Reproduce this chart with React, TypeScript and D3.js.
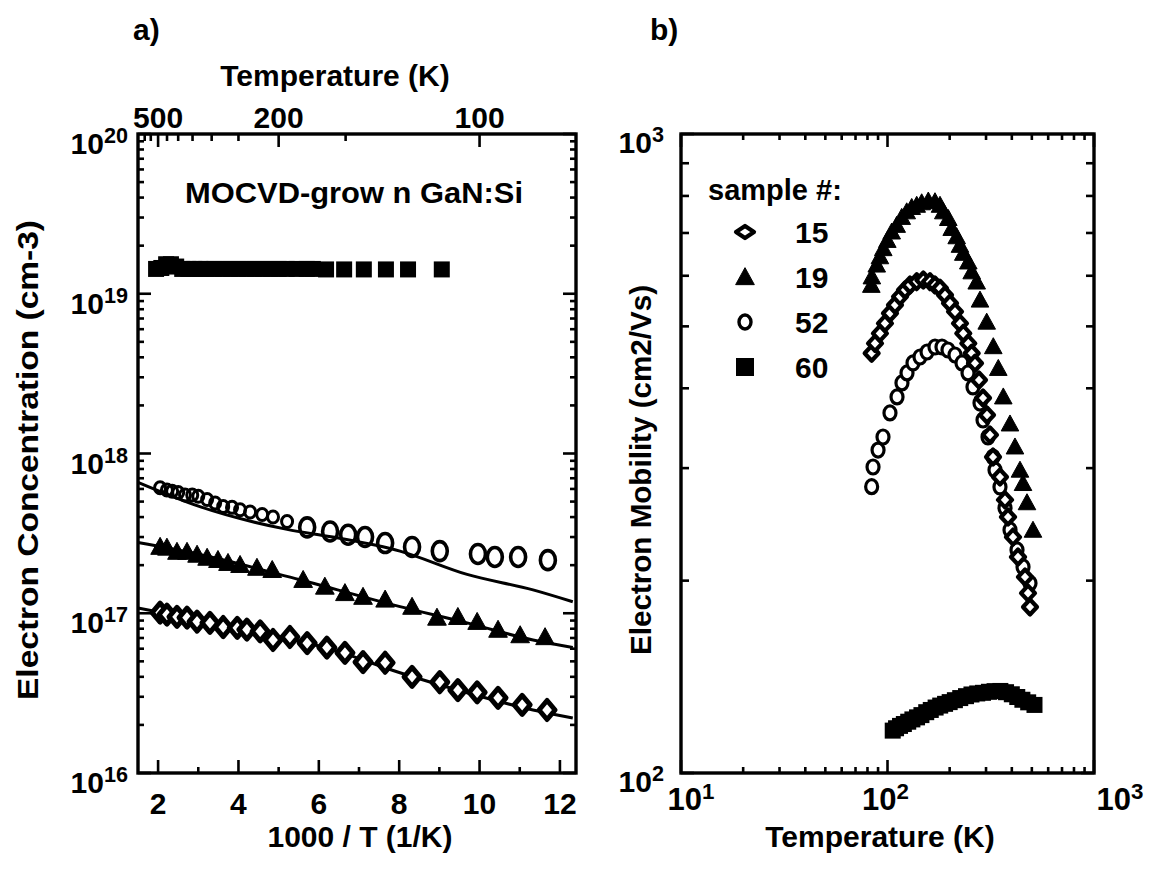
import React from 'react';
import * as d3 from 'd3';

// ---------- Panel a: electron concentration vs 1000/T ----------
const sq60InvT = [1.95, 2.08, 2.2, 2.32, 2.45, 2.6, 2.75, 2.9, 3.05, 3.2, 3.4, 3.6, 3.8, 4.0, 4.2, 4.4, 4.6, 4.8, 5.0, 5.2, 5.45, 5.7, 5.85, 6.18, 6.63, 7.12, 7.67, 8.22, 9.06];
const sq60N = [1.43e19, 1.45e19, 1.53e19, 1.53e19, 1.48e19, 1.43e19, 1.43e19, 1.43e19, 1.43e19, 1.43e19, 1.43e19, 1.43e19, 1.43e19, 1.43e19, 1.43e19, 1.43e19, 1.43e19, 1.43e19, 1.43e19, 1.43e19, 1.43e19, 1.43e19, 1.43e19, 1.42e19, 1.42e19, 1.42e19, 1.42e19, 1.42e19, 1.42e19];

const c52InvT = [2.05, 2.22, 2.35, 2.5, 2.67, 2.85, 3.0, 3.22, 3.42, 3.62, 3.84, 4.04, 4.29, 4.59, 4.86, 5.21, 5.71, 6.28, 6.73, 7.15, 7.65, 8.32, 9.01, 9.96, 10.38, 10.96, 11.7];
const c52N = [6.1e17, 5.9e17, 5.8e17, 5.7e17, 5.5e17, 5.5e17, 5.4e17, 5.15e17, 4.9e17, 4.65e17, 4.6e17, 4.45e17, 4.3e17, 4.15e17, 4.0e17, 3.75e17, 3.45e17, 3.25e17, 3.1e17, 3.0e17, 2.75e17, 2.6e17, 2.45e17, 2.35e17, 2.25e17, 2.25e17, 2.15e17];

const t19InvT = [2.05, 2.22, 2.47, 2.72, 2.97, 3.22, 3.49, 3.74, 4.04, 4.46, 4.84, 5.61, 6.15, 6.65, 7.1, 7.65, 8.32, 8.94, 9.46, 9.94, 10.46, 11.01, 11.63];
const t19N = [2.61e17, 2.58e17, 2.43e17, 2.43e17, 2.33e17, 2.23e17, 2.16e17, 2.07e17, 2.01e17, 1.93e17, 1.87e17, 1.62e17, 1.47e17, 1.34e17, 1.27e17, 1.22e17, 1.1e17, 9.4e16, 9.5e16, 8.85e16, 7.9e16, 7.3e16, 7.1e16];

const d15InvT = [2.05, 2.22, 2.47, 2.72, 2.97, 3.29, 3.62, 3.97, 4.21, 4.54, 4.86, 5.28, 5.71, 6.2, 6.65, 7.1, 7.65, 8.32, 9.01, 9.46, 9.94, 10.46, 11.06, 11.68];
const d15N = [1.01e17, 9.8e16, 9.5e16, 9.4e16, 8.85e16, 8.7e16, 8.2e16, 8.1e16, 7.9e16, 7.7e16, 6.8e16, 7.1e16, 6.5e16, 6.1e16, 5.65e16, 4.95e16, 4.9e16, 4.0e16, 3.7e16, 3.3e16, 3.2e16, 2.95e16, 2.67e16, 2.48e16];

// fitted curves
const fit52InvT = [1.5, 3.04, 5.21, 6.35, 8.02, 9.69, 11.33, 12.32];
const fit52N = [6.6e17, 4.65e17, 3.35e17, 3.0e17, 2.45e17, 1.75e17, 1.4e17, 1.18e17];
const fit19InvT = [1.5, 3.04, 5.53, 8.02, 9.69, 11.33, 12.32];
const fit19N = [2.77e17, 2.33e17, 1.62e17, 1.1e17, 8.7e16, 6.8e16, 6.1e16];
const fit15InvT = [1.5, 3.87, 6.35, 8.02, 9.69, 11.33, 12.32];
const fit15N = [1.08e17, 8.2e16, 5.9e16, 4.24e16, 3.18e16, 2.48e16, 2.21e16];

const topTempTicks = [600, 550, 500, 450, 400, 350, 300, 250, 200, 150, 100];
const topTempLabels = [500, 200, 100];
const bottomInvTMajor = [2, 4, 6, 8, 10, 12];
const bottomInvTMinor = [3, 5, 7, 9, 11];

// ---------- Panel b: mobility vs temperature ----------
const b15T = [83.8, 87.0, 91.9, 97.2, 102.8, 108.7, 115.0, 121.5, 128.5, 138.5, 149.1, 160.6, 169.8, 179.6, 189.9, 200.8, 212.3, 224.4, 232.8, 246.2, 255.7, 265.3, 277.4, 290.1, 303.3, 313.6, 324.3, 350.5, 370.7, 383.3, 405.3, 428.5, 463.4, 479.1, 489.9];
const b15Mu = [453.8, 470.3, 487.6, 505.5, 524.1, 540.0, 556.5, 570.1, 580.4, 587.4, 590.9, 587.4, 580.4, 573.6, 559.8, 543.4, 527.2, 505.5, 487.6, 470.3, 453.8, 437.7, 412.1, 386.3, 363.3, 338.1, 312.2, 290.5, 267.5, 251.6, 234.0, 217.8, 202.6, 191.2, 181.9];

const b19T = [83.5, 84.0, 88.7, 91.9, 95.4, 99.8, 104.8, 110.8, 117.2, 123.9, 131.0, 138.5, 146.4, 157.6, 169.8, 179.6, 186.3, 197.0, 204.6, 216.3, 224.4, 232.8, 246.2, 255.7, 270.4, 280.5, 302.3, 325.3, 344.0, 363.7, 391.9, 414.3, 438.1, 453.1, 473.7, 506.5];
const b19Mu = [580, 598, 624, 643, 662, 682, 703, 720, 741, 756, 768, 774, 781, 786, 784, 774, 756, 738, 712, 691, 670, 651, 631, 609, 587, 550, 508, 465, 430, 388, 352, 324, 298, 284, 265, 240];

const b52T = [83.8, 85.1, 90.0, 95.1, 102.8, 111.2, 117.5, 124.3, 132.9, 143.7, 155.4, 169.8, 183.6, 196.3, 212.3, 229.5, 245.4, 259.4, 280.5, 290.1, 306.7, 324.3, 331.6, 350.5, 370.7, 392.0, 423.8, 453.2, 489.9];
const b52Mu = [280.6, 301.2, 320.2, 335.6, 366.0, 387.7, 407.8, 422.7, 438.2, 447.7, 455.9, 464.2, 464.2, 459.2, 451.0, 438.2, 422.7, 401.9, 379.3, 356.8, 335.6, 312.2, 297.9, 280.3, 259.9, 240.1, 223.4, 210.1, 198.2];

const b60T = [106, 110, 115, 120, 126, 132, 139, 146, 154, 162, 171, 180, 190, 200, 212, 225, 240, 255, 272, 290, 310, 330, 352, 375, 400, 425, 450, 480, 515];
const b60Mu = [116.5, 117.5, 118.5, 119.3, 120.3, 121.3, 122.2, 123.2, 124.5, 125.5, 126.6, 127.5, 128.3, 129.1, 130, 131, 131.9, 132.7, 133.2, 133.5, 134, 134.3, 134.4, 133.8, 132.8, 131.5, 130.2, 129, 127.8];

const legendSamples = ['15', '19', '52', '60'];

const FONT = '"Liberation Sans", Arial, Helvetica, sans-serif';

const zip = (xs: number[], ys: number[]) => xs.map((x, i) => [x, ys[i]] as [number, number]);

function logTicks(lo: number, hi: number) {
  const out: { v: number; major: boolean }[] = [];
  for (let e = Math.floor(Math.log10(lo)); e <= Math.ceil(Math.log10(hi)); e++) {
    for (let k = 1; k <= 9; k++) {
      const v = k * Math.pow(10, e);
      if (v >= lo * 0.999 && v <= hi * 1.001) out.push({ v, major: k === 1 });
    }
  }
  return out;
}

const Tri = ({ x, y, s }: { x: number; y: number; s: number }) => (
  <path d={`M${x},${y - s * 0.55}L${x + s * 0.55},${y + s * 0.45}L${x - s * 0.55},${y + s * 0.45}Z`} fill="#000" stroke="#000" strokeWidth={1} strokeLinejoin="round" />
);
const Dia = ({ x, y, w, h, sw = 4 }: { x: number; y: number; w: number; h: number; sw?: number }) => (
  <path d={`M${x},${y - h / 2}L${x + w / 2},${y}L${x},${y + h / 2}L${x - w / 2},${y}Z`} fill="#fff" stroke="#000" strokeWidth={sw} strokeLinejoin="round" />
);
const Sq = ({ x, y, s }: { x: number; y: number; s: number }) => (
  <rect x={x - s / 2} y={y - s / 2} width={s} height={s} fill="#000" />
);

const Sup = ({ x, y, base, exp, anchor = 'end', size = 30 }: { x: number; y: number; base: string; exp: string; anchor?: string; size?: number }) => (
  <text x={x} y={y} textAnchor={anchor} fontFamily={FONT} fontWeight="bold" fontSize={size}>
    {base}
    <tspan fontSize={size * 0.72} dy={-size * 0.36}>{exp}</tspan>
  </text>
);

export default function App() {
  // panel a scales
  const xA = d3.scaleLinear().domain([1.5, 12.4]).range([138, 576]);
  const yA = d3.scaleLog().domain([1e16, 1e20]).range([773, 134]);
  // panel b scales
  const xB = d3.scaleLog().domain([10, 1000]).range([681, 1094]);
  const yB = d3.scaleLog().domain([100, 1000]).range([773, 134]);

  const lineA = d3.line<[number, number]>().x(d => xA(d[0])).y(d => yA(d[1])).curve(d3.curveMonotoneX);

  const aL = xA.range()[0], aR = xA.range()[1], aT = yA.range()[1], aB = yA.range()[0];
  const bL = xB.range()[0], bR = xB.range()[1], bT = yB.range()[1], bB = yB.range()[0];

  const yATicks = logTicks(1e16, 1e20);
  const xBTicks = logTicks(10, 1000);
  const yBTicks = logTicks(100, 1000);

  const tk = 2.6;

  return (
    <svg width={1156} height={874} style={{ position: 'absolute', left: 0, top: 0, background: '#fff' }}>
      <rect x={0} y={0} width={1156} height={874} fill="#fff" />
      {/* ===== Panel a ===== */}
      <text x={133} y={40} fontFamily={FONT} fontWeight="bold" fontSize={30}>a)</text>
      <text x={335} y={86} textAnchor="middle" fontFamily={FONT} fontWeight="bold" fontSize={30}>Temperature  (K)</text>
      {topTempLabels.map(t => (
        <text key={'tl' + t} x={xA(1000 / t)} y={128} textAnchor="middle" fontFamily={FONT} fontWeight="bold" fontSize={30}>{t}</text>
      ))}
      {/* ticks */}
      <g stroke="#000" strokeWidth={tk}>
        {topTempTicks.map(t => {
          const major = topTempLabels.includes(t);
          return <line key={'tt' + t} x1={xA(1000 / t)} x2={xA(1000 / t)} y1={aT} y2={aT + (major ? 13 : 7)} />;
        })}
        {bottomInvTMajor.map(v => <line key={'bM' + v} x1={xA(v)} x2={xA(v)} y1={aB} y2={aB - 13} />)}
        {bottomInvTMinor.map(v => <line key={'bm' + v} x1={xA(v)} x2={xA(v)} y1={aB} y2={aB - 6} />)}
        {yATicks.map(t => (
          <g key={'ya' + t.v}>
            <line x1={aL} x2={aL + (t.major ? 13 : 6)} y1={yA(t.v)} y2={yA(t.v)} />
            <line x1={aR} x2={aR - (t.major ? 13 : 6)} y1={yA(t.v)} y2={yA(t.v)} />
          </g>
        ))}
      </g>
      <rect x={aL} y={aT} width={aR - aL} height={aB - aT} fill="none" stroke="#000" strokeWidth={3.4} />
      {bottomInvTMajor.map(v => (
        <text key={'bl' + v} x={xA(v)} y={814} textAnchor="middle" fontFamily={FONT} fontWeight="bold" fontSize={30}>{v}</text>
      ))}
      <text x={360} y={847} textAnchor="middle" fontFamily={FONT} fontWeight="bold" fontSize={30}>1000 / T  (1/K)</text>
      {yATicks.filter(t => t.major).map(t => (
        <Sup key={'yal' + t.v} x={128} y={yA(t.v) + 20} base="10" exp={String(Math.round(Math.log10(t.v)))} />
      ))}
      <text transform={`translate(38,460) rotate(-90)`} textAnchor="middle" fontFamily={FONT} fontWeight="bold" fontSize={30} textLength={480} lengthAdjust="spacingAndGlyphs">Electron Concentration  (cm-3)</text>
      <text x={354} y={203} textAnchor="middle" fontFamily={FONT} fontWeight="bold" fontSize={30} textLength={338} lengthAdjust="spacingAndGlyphs">MOCVD-grow n GaN:Si</text>

      {/* fit lines */}
      <g fill="none" stroke="#000" strokeWidth={3}>
        <path d={lineA(zip(fit52InvT, fit52N)) || ''} />
        <path d={lineA(zip(fit19InvT, fit19N)) || ''} />
        <path d={lineA(zip(fit15InvT, fit15N)) || ''} />
      </g>
      {/* markers */}
      {zip(sq60InvT, sq60N).map((d, i) => <Sq key={'sa' + i} x={xA(d[0])} y={yA(d[1])} s={16} />)}
      {zip(c52InvT, c52N).map((d, i) => {
        const big = d[0] > 5.5;
        return <ellipse key={'ca' + i} cx={xA(d[0])} cy={yA(d[1])} rx={big ? 7.5 : 5.5} ry={big ? 9.5 : 6} fill="none" stroke="#000" strokeWidth={big ? 3.6 : 3} />;
      })}
      {zip(t19InvT, t19N).map((d, i) => <Tri key={'ta' + i} x={xA(d[0])} y={yA(d[1])} s={17} />)}
      {zip(d15InvT, d15N).map((d, i) => <Dia key={'da' + i} x={xA(d[0])} y={yA(d[1])} w={16} h={19} sw={5} />)}

      {/* ===== Panel b ===== */}
      <text x={650} y={40} fontFamily={FONT} fontWeight="bold" fontSize={30}>b)</text>
      <g stroke="#000" strokeWidth={tk}>
        {xBTicks.map(t => (
          <g key={'xb' + t.v}>
            <line x1={xB(t.v)} x2={xB(t.v)} y1={bB} y2={bB - (t.major ? 13 : 6)} />
            <line x1={xB(t.v)} x2={xB(t.v)} y1={bT} y2={bT + (t.major ? 13 : 6)} />
          </g>
        ))}
        {yBTicks.map(t => (
          <g key={'yb' + t.v}>
            <line x1={bL} x2={bL + (t.major ? 13 : 8)} y1={yB(t.v)} y2={yB(t.v)} />
            <line x1={bR} x2={bR - (t.major ? 13 : 8)} y1={yB(t.v)} y2={yB(t.v)} />
          </g>
        ))}
      </g>
      <rect x={bL} y={bT} width={bR - bL} height={bB - bT} fill="none" stroke="#000" strokeWidth={3.4} />
      {xBTicks.filter(t => t.major).map((t, i) => (
        <Sup key={'xbl' + t.v} x={xB(t.v) + [10, -2, 26][i]} y={810} anchor="middle" base="10" exp={String(Math.round(Math.log10(t.v)))} size={31} />
      ))}
      {yBTicks.filter(t => t.major).map(t => (
        <Sup key={'ybl' + t.v} x={664} y={yB(t.v) + 19} base="10" exp={String(Math.round(Math.log10(t.v)))} />
      ))}
      <text x={880} y={847} textAnchor="middle" fontFamily={FONT} fontWeight="bold" fontSize={30}>Temperature  (K)</text>
      <text transform={`translate(651,470) rotate(-90)`} textAnchor="middle" fontFamily={FONT} fontWeight="bold" fontSize={30} textLength={370} lengthAdjust="spacingAndGlyphs">Electron Mobility (cm2/Vs)</text>

      {/* markers */}
      {zip(b60T, b60Mu).map((d, i) => <Sq key={'sb' + i} x={xB(d[0])} y={yB(d[1])} s={16} />)}
      {zip(b19T, b19Mu).map((d, i) => <Tri key={'tb' + i} x={xB(d[0])} y={yB(d[1])} s={16} />)}
      {zip(b52T, b52Mu).map((d, i) => <ellipse key={'cb' + i} cx={xB(d[0])} cy={yB(d[1])} rx={6} ry={7} fill="#fff" stroke="#000" strokeWidth={3.2} />)}
      {zip(b15T, b15Mu).map((d, i) => <Dia key={'db' + i} x={xB(d[0])} y={yB(d[1])} w={14} h={15} sw={4.2} />)}

      {/* legend */}
      <text x={708} y={200} fontFamily={FONT} fontWeight="bold" fontSize={29}>sample #:</text>
      {legendSamples.map((s, i) => {
        const cy = 232 + i * 45;
        const cx = 745;
        return (
          <g key={'lg' + s}>
            {i === 0 && <Dia x={cx} y={cy} w={18} h={12} sw={4.2} />}
            {i === 1 && <Tri x={cx} y={cy} s={17} />}
            {i === 2 && <ellipse cx={cx} cy={cy} rx={6} ry={7} fill="#fff" stroke="#000" strokeWidth={3.4} />}
            {i === 3 && <Sq x={cx} y={cy} s={18} />}
            <text x={795} y={cy + 11} fontFamily={FONT} fontWeight="bold" fontSize={30}>{s}</text>
          </g>
        );
      })}
    </svg>
  );
}
